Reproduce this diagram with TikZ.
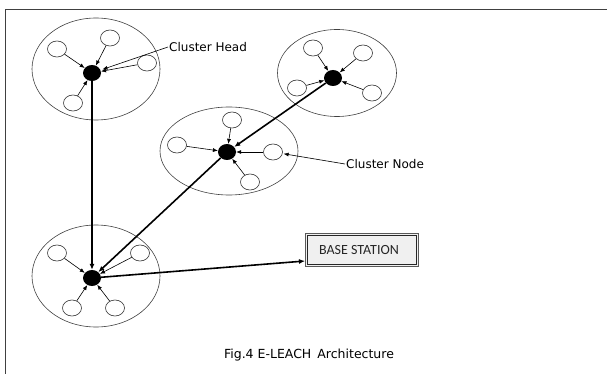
\documentclass[tikz,border=0pt]{standalone}
\usepackage{fontspec}
\setmainfont{DejaVu Sans}
\newfontfamily\boxfont{Carlito}
\usetikzlibrary{shapes.geometric, arrows.meta}
\tikzset{member/.style={ellipse, draw=black!80, line width=0.6pt, minimum width=19pt, minimum height=16pt, inner sep=0pt},
  head/.style={ellipse, fill=black, minimum width=18pt, minimum height=16pt, inner sep=0pt},
  cluster/.style={ellipse, draw=black!75, line width=0.6pt, inner sep=0pt},
  toward/.style={-{Latex[length=5pt,width=4pt]}, line width=0.6pt},
  uplink/.style={-{Latex[length=6pt,width=5pt]}, line width=1.6pt},
  tag/.style={font=\fontsize{12}{14}\selectfont, inner sep=1pt}}

\begin{document}
\begin{tikzpicture}[x=1pt, y=-1pt]
\useasboundingbox (0,0) rectangle (607,374);

   % frame
   \draw[black!75, line width=0.8pt] (5,374) -- (5,9) -- (607,9);

   % clusters
   \node[cluster, minimum width=128pt, minimum height=102pt] (c1) at (96,69) {};
   \node[cluster, minimum width=119pt, minimum height=87pt] (c2) at (337,73) {};
   \node[cluster, minimum width=138pt, minimum height=88pt] (c3) at (229,151) {};
   \node[cluster, minimum width=128pt, minimum height=102pt] (c4) at (96,276) {};

   % cluster heads
   \node[head] (h1) at (92,73) {};
   \node[head] (h2) at (333,78) {};
   \node[head] (h3) at (227,152) {};
   \node[head] (h4) at (92,278) {};

   % cluster nodes
   \foreach \n/\x/\y in {a/57/49, b/110/38, c/147/63, d/73/103}{
     \node[member] (m1\n) at (\x,\y) {};
     \draw[toward] (m1\n) -- (h1);
   }
   \foreach \n/\x/\y in {a/313/48, b/363/53, c/297/88, d/372/93}{
     \node[member] (m2\n) at (\x,\y) {};
     \draw[toward] (m2\n) -- (h2);
   }
   \foreach \n/\x/\y in {a/232/120, b/177/145, c/273/152, d/250/182}{
     \node[member] (m3\n) at (\x,\y) {};
     \draw[toward] (m3\n) -- (h3);
   }
   \foreach \n/\x/\y in {a/57/253, b/140/253, c/72/308, d/115/308}{
     \node[member] (m4\n) at (\x,\y) {};
     \draw[toward] (m4\n) -- (h4);
   }

   % base station
   \node[draw=black!65, line width=0.9pt, fill=black!6,
         minimum width=113pt, minimum height=33pt] (bs) at (362,250) {};
   \draw[black!85, line width=0.9pt] ([shift={(2.6pt,-2.6pt)}]bs.north west) rectangle ([shift={(-2.6pt,2.6pt)}]bs.south east);
   \node[font=\boxfont\fontsize{14}{16}\selectfont, text=black!85] (bstext) at ([xshift=-3pt]bs.center) {BASE STATION};

   % data towards the base station
   \draw[uplink] (h1) -- (h4);
   \draw[uplink] (h2) -- (h3);
   \draw[uplink] (h3) -- (h4);
   \draw[uplink] (h4) -- ([yshift=-11pt]bs.west);

   % labels
   \node[tag, anchor=west] (lhead) at (168,47) {Cluster Head};
   \draw[toward, shorten >=2pt] (lhead.west) -- (h1);
   \node[tag, anchor=west] (lnode) at (345,164) {Cluster Node};
   \draw[toward, shorten >=1pt] (lnode.west) -- (m3c);

   \node[font=\fontsize{12.5}{14}\selectfont] (cap) at (309,355) {Fig.4 E-LEACH\, Architecture};

\end{tikzpicture}
\end{document}
